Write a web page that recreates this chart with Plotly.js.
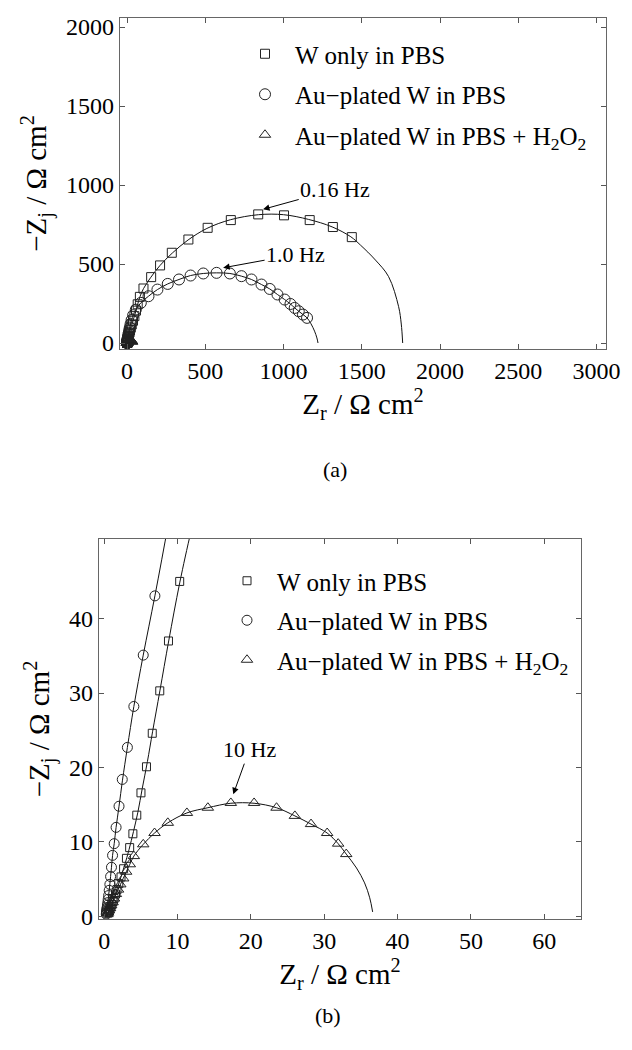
<!DOCTYPE html>
<html><head><meta charset="utf-8">
<script src="https://cdn.plot.ly/plotly-3.0.1.min.js"></script>
<style>html,body{margin:0;padding:0;background:#fff}#chart{width:632px;height:1050px}</style>
</head><body><div id="chart"></div>
<script>
// ---- data (Zr, -Zj in Ohm cm^2) ----
const seriesNames = ["W only in PBS", "Au\u2212plated W in PBS", "Au\u2212plated W in PBS + H<sub>2</sub>O<sub>2</sub>"];

const wX = [0.52,0.6,0.7,0.8,0.92,1.05,1.2,1.35,1.55,1.75,2.0,2.3,2.65,3.04,3.48,3.92,4.45,5.02,5.77,6.56,7.58,8.77,10.3,12.4,15.2,19,24,30,38,47,57,68,82,105,154,211,286,392,515,663,838,1003,1167,1315,1436];
const wY = [0.45,0.6,0.8,1.0,1.3,1.6,2.0,2.4,3.0,3.6,4.4,5.3,6.4,7.8,9.24,11.1,13.6,16.6,20.1,24.6,30.3,37.0,45.0,54,66,80,97,117,141,170,205,245,292,345,417,491,571,655,729,778,814,808,778,734,670];

const auX = [0.29,0.31,0.33,0.35,0.38,0.41,0.45,0.5,0.55,0.61,0.69,0.78,0.88,1.0,1.15,1.37,1.63,2.03,2.47,3.17,4.05,5.33,6.92,8.8,11,13.8,17.5,22.5,29,39,56,88,137,194,260,332,406,487,572,657,731,795,859,912,961,1007,1044,1071,1097,1124,1150];
const auY = [0.3,0.45,0.6,0.78,0.97,1.2,1.5,1.85,2.3,2.8,3.5,4.3,5.35,6.6,8.2,9.77,11.96,14.8,18.4,22.7,28.2,35.1,43.06,53,65,80,98,120,145,176,211,254,296,338,374,402,427,440,444,440,423,402,370,342,307,275,247,222,201,180,159];

const hX = [0.45,0.55,0.65,0.8,0.95,1.15,1.35,1.6,1.9,2.2,2.6,3.0,3.5,4.05,5.33,6.87,8.68,11.28,14.14,17.27,20.44,23.5,26.0,28.2,30.4,31.9,33.0];
const hY = [0.3,0.5,0.8,1.1,1.5,1.9,2.4,3.0,3.6,4.3,5.1,6.0,7.0,8.1,9.68,11.2,12.57,13.9,14.6,15.24,15.24,14.6,13.5,12.4,11.2,9.77,8.37];

// model fits (solid lines)
const fitWX = [0.4,1.0,1.6,2.2,2.8,3.4,4.0,4.6,5.2,5.9,6.6,7.6,8.8,10.3,11.9,15.2,19,24,30,38,47,57,68,82,105,150,210,290,390,510,660,840,1000,1160,1310,1430,1491,1587,1671,1735,1752,1761];
const fitWY = [0,1.5,3.2,5.0,6.9,9.0,11.4,14.0,17.2,20.8,24.8,30.3,37.0,44.8,52,65.5,79.5,96.5,117,141,170,205,245,292,344,413,490,570,652,725,780,812,812,782,735,672,620,525,420,230,120,0];

const fitAuX = [0.28,0.3,0.33,0.38,0.45,0.55,0.69,0.88,1.0,1.15,1.37,1.63,2.03,2.5,3.17,4.05,5.33,6.92,8.8,11,13.8,17.5,22.5,29,39,56,88,137,194,260,332,406,487,572,657,731,795,859,912,961,1007,1044,1071,1097,1124,1150,1175,1198,1213,1220];
const fitAuY = [0,0.3,0.6,0.97,1.5,2.3,3.5,5.35,6.6,8.2,9.77,11.96,14.8,18.3,22.7,28.2,35.1,43.06,53,65,80,98,120,145,176,211,254,296,338,374,402,427,440,444,440,423,402,370,342,307,275,247,222,201,180,159,122,75,32,0];

const fitHX = [0.3,0.45,0.65,0.95,1.35,1.9,2.6,3.5,4.05,5.33,6.87,8.68,11.28,14.14,17.27,20.44,23.5,26.0,28.2,30.4,31.9,33.0,34.4,35.5,36.2,36.6];
const fitHY = [0,0.3,0.8,1.5,2.4,3.6,5.1,7.0,8.1,9.68,11.2,12.57,13.9,14.6,15.2,15.2,14.6,13.5,12.4,11.2,9.77,8.37,6.5,4.5,2.5,0.6];

const xTicksA = [0,500,1000,1500,2000,2500,3000];
const yTicksA = [0,500,1000,1500,2000];
const xTicksB = [0,10,20,30,40,50,60];
const yTicksB = [0,10,20,30,40];

// ---- traces ----
const FONT = "Liberation Serif, Times New Roman, serif";
const traces = [];
function fit(x, y, xa, ya) {
  traces.push({x: x, y: y, xaxis: xa, yaxis: ya, mode: 'lines', showlegend: false,
    line: {color: '#111', width: 1, shape: 'spline', smoothing: 1}, hoverinfo: 'skip'});
}
function pts(x, y, name, symbol, size, xa, ya, leg) {
  traces.push({x: x, y: y, xaxis: xa, yaxis: ya, mode: 'markers', name: name,
    legend: leg, legendgroup: leg + name,
    marker: {symbol: symbol, size: size, color: '#222', line: {color: '#222', width: 1}}});
}
// panel (a)
fit(fitWX, fitWY, 'x', 'y');
fit(fitAuX, fitAuY, 'x', 'y');
fit(fitHX, fitHY, 'x', 'y');
pts(wX, wY, seriesNames[0], 'square-open', 9, 'x', 'y', 'legend');
pts(auX, auY, seriesNames[1], 'circle-open', 11, 'x', 'y', 'legend');
pts(hX, hY, seriesNames[2], 'triangle-up-open', 10, 'x', 'y', 'legend');
// panel (b)
fit(fitWX, fitWY, 'x2', 'y2');
fit(fitAuX, fitAuY, 'x2', 'y2');
fit(fitHX, fitHY, 'x2', 'y2');
pts(wX, wY, seriesNames[0], 'square-open', 8, 'x2', 'y2', 'legend2');
pts(auX, auY, seriesNames[1], 'circle-open', 10, 'x2', 'y2', 'legend2');
pts(hX, hY, seriesNames[2], 'triangle-up-open', 10, 'x2', 'y2', 'legend2');

function axis(domain, range, tickvals, anchor, title, standoff) {
  return {domain: domain, range: range, tickvals: tickvals, anchor: anchor,
    ticks: 'inside', ticklen: 5, tickcolor: '#555', tickwidth: 1,
    showline: true, mirror: 'ticks', linecolor: '#666', linewidth: 1.3,
    showgrid: false, zeroline: false,
    tickfont: {family: FONT, size: 24, color: '#000'},
    title: {text: title, font: {family: FONT, size: 29, color: '#000'}, standoff: standoff}};
}
const xTitle = 'Z<sub>r</sub> / \u03A9 cm<sup>2</sup>';
const yTitle = '\u2212Z<sub>j</sub> / \u03A9 cm<sup>2</sup>';

const legendFont = {family: FONT, size: 25, color: '#000'};
const layout = {
  width: 632, height: 1050,
  margin: {l: 0, r: 0, t: 0, b: 0},
  paper_bgcolor: '#fff', plot_bgcolor: '#fff',
  font: {family: FONT, color: '#000'},
  xaxis: axis([120/632, 606/632], [-45, 3060], xTicksA, 'y', xTitle, 6),
  yaxis: axis([1 - 349/1050, 1 - 18/1050], [-38, 2057], yTicksA, 'x', yTitle, 10),
  xaxis2: axis([99/632, 581/632], [-0.7, 65], xTicksB, 'y2', xTitle, 6),
  yaxis2: axis([1 - 919/1050, 1 - 539/1050], [-0.35, 50.7], yTicksB, 'x2', yTitle, 10),
  legend: {x: 235/632, y: 1 - 31/1050, xanchor: 'left', yanchor: 'top', itemwidth: 50,
    bgcolor: 'rgba(0,0,0,0)', font: legendFont, tracegroupgap: 5},
  legend2: {x: 217/632, y: 1 - 558/1050, xanchor: 'left', yanchor: 'top', itemwidth: 50,
    bgcolor: 'rgba(0,0,0,0)', font: legendFont, tracegroupgap: 4},
  annotations: [
    {xref: 'x', yref: 'y', axref: 'x', ayref: 'y', x: 869, y: 846, ax: 1330, ay: 972,
     text: '0.16 Hz', showarrow: true, arrowhead: 2, arrowsize: 1.3, arrowwidth: 1, arrowcolor: '#000',
     font: {family: FONT, size: 22, color: '#000'}},
    {xref: 'x', yref: 'y', axref: 'x', ayref: 'y', x: 614, y: 476, ax: 1077, ay: 560,
     text: '1.0 Hz', showarrow: true, arrowhead: 2, arrowsize: 1.3, arrowwidth: 1, arrowcolor: '#000',
     font: {family: FONT, size: 22, color: '#000'}},
    {xref: 'x2', yref: 'y2', axref: 'x2', ayref: 'y2', x: 17.6, y: 16.4, ax: 19.8, ay: 22.4,
     text: '10 Hz', showarrow: true, arrowhead: 2, arrowsize: 1.3, arrowwidth: 1, arrowcolor: '#000',
     font: {family: FONT, size: 22, color: '#000'}},
    {xref: 'paper', yref: 'paper', x: 335/632, y: 1 - 470/1050, text: '(a)', showarrow: false,
     font: {family: FONT, size: 22, color: '#000'}},
    {xref: 'paper', yref: 'paper', x: 328/632, y: 1 - 1030/1050, text: '(b)', showarrow: false,
     font: {family: FONT, size: 22, color: '#000'}}
  ]
};

Plotly.newPlot('chart', traces, layout, {staticPlot: true, displayModeBar: false});
</script>
</body></html>
